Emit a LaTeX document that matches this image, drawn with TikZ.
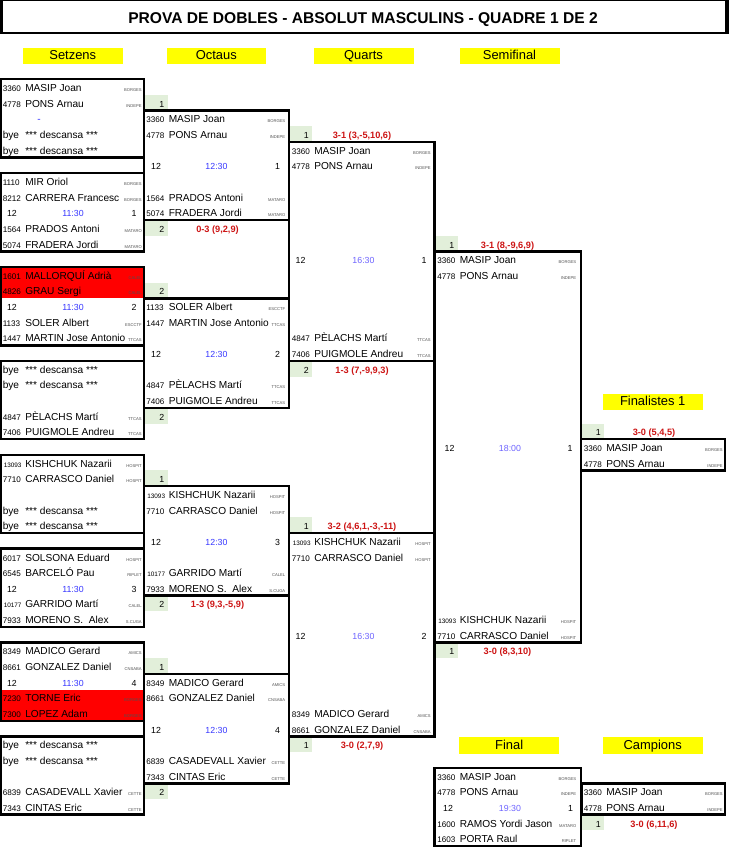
\documentclass[tikz,border=0pt]{standalone}
\usepackage{fontspec}
\setmainfont{Liberation Sans}
\definecolor{cellgreen}{RGB}{226,239,218}
\definecolor{hdryellow}{RGB}{255,255,0}
\definecolor{timeblue}{RGB}{55,55,255}
\definecolor{timeblueb}{RGB}{110,100,255}
\definecolor{resred}{RGB}{205,20,20}
\definecolor{clubgrey}{RGB}{80,80,80}
\tikzset{
  nmt/.style={inner sep=0pt,font=\fontsize{7.6}{9}\selectfont},
  idt/.style={inner sep=0pt,font=\fontsize{6.1}{7}\selectfont},
  idtf/.style={inner sep=0pt,font=\fontsize{4.8}{6}\selectfont},
  clt/.style={inner sep=0pt,text=clubgrey,font=\fontsize{3.1}{4}\selectfont},
  mdt/.style={inner sep=0pt,font=\fontsize{6.6}{8}\selectfont},
  rst/.style={inner sep=0pt,text=resred,font=\bfseries\fontsize{6.9}{8}\selectfont},
  hdr/.style={inner sep=0pt,font=\fontsize{9.7}{11}\selectfont},
  ttl/.style={inner sep=0pt,font=\bfseries\fontsize{11.7}{13}\selectfont},
  boxl/.style={draw=black,line width=1.9pt},
}
% entry: prefix, x0, row, id, name, club
\newcommand\ent[6]{%
  \node[idt,anchor=base west] (#1-id) at ({#2+2.5},{91.5+15.65*(#3)}) {#4};
  \node[nmt,anchor=base west] (#1-nm) at ({#2+25},{91.5+15.65*(#3)}) {#5};
  \node[clt,anchor=base east] (#1-cl) at ({#2+142},{91.5+15.65*(#3)}) {#6};
}
% entry with a five-digit id
\newcommand\entf[6]{%
  \node[idtf,anchor=base west] (#1-id) at ({#2+3.5},{91.5+15.65*(#3)}) {#4};
  \node[nmt,anchor=base west] (#1-nm) at ({#2+25},{91.5+15.65*(#3)}) {#5};
  \node[clt,anchor=base east] (#1-cl) at ({#2+142},{91.5+15.65*(#3)}) {#6};
}
% bye: prefix, x0, row
\newcommand\byeline[3]{%
  \node[nmt,anchor=base west] (#1-id) at ({#2+2.5},{91.5+15.65*(#3)}) {bye};
  \node[nmt,anchor=base west] (#1-nm) at ({#2+25},{91.5+15.65*(#3)}) {*** descansa ***};
}
% mid row: prefix, x12, xtime, xnum, row, time, num, colour
\newcommand\midrow[8]{%
  \node[mdt,anchor=base] (#1-a) at (#2,{91.5+15.65*(#5)}) {12};
  \node[mdt,anchor=base,text=#8] (#1-t) at (#3,{91.5+15.65*(#5)}) {#6};
  \node[mdt,anchor=base] (#1-n) at (#4,{91.5+15.65*(#5)}) {#7};
}
% winner cell: prefix, xcell, row, num
\newcommand\wcell[4]{%
  \fill[cellgreen] (#2,{79.2+15.65*(#3)}) rectangle ({#2+23},{94.85+15.65*(#3)});
  \node[mdt,anchor=base east] (#1-w) at ({#2+20},{91.5+15.65*(#3)}) {#4};
}
% result: prefix, xcell, row, text
\newcommand\wres[4]{%
  \node[rst,anchor=base] (#1-r) at ({#2+73},{91.5+15.65*(#3)}) {#4};
}
% box: x0, x1, row1, row2
\newcommand\bx[4]{%
  \draw[boxl] (#1,{79.2+15.65*(#3)}) rectangle (#2,{94.85+15.65*(#4)});
}
% header: name, x0, x1, ytop, ybot, text
\newcommand\hd[6]{%
  \fill[hdryellow] (#2,#4) rectangle (#3,#5);
  \node[hdr,anchor=base] (#1) at ({(#2+#3)/2},{#5-4.5}) {#6};
}
\begin{document}
\begin{tikzpicture}[x=0.75pt,y=-0.75pt]
\useasboundingbox (0,0) rectangle (729,863);
\fill[white] (0,0) rectangle (729,863);
% title
\fill[black] (0,0) rectangle (729,34.3);
\fill[white] (2.8,1.1) rectangle (725.2,31.7);
\node[ttl,anchor=base] (title) at (363,23.2) {PROVA DE DOBLES - ABSOLUT MASCULINS - QUADRE 1 DE 2};
% headers
\hd{h1}{22.5}{123}{48}{64.5}{Setzens}
\hd{h2}{166.5}{266}{48}{64.5}{Octaus}
\hd{h3}{313.5}{413.5}{48}{64.5}{Quarts}
\hd{h4}{459.5}{559.5}{48}{64.5}{Semifinal}
\hd{h5}{602.7}{702.7}{394}{409.5}{Finalistes 1}
\hd{h6}{459.3}{559}{737.3}{754}{Final}
\hd{h7}{602.7}{702.7}{737.3}{754}{Campions}
% red rows
\fill[red] (0.5,{79.2+15.65*12}) rectangle (144,{94.85+15.65*13});
\fill[red] (0.5,{79.2+15.65*39}) rectangle (144,{94.85+15.65*40});
% winner cells
\wcell{c1}{144.5}{1}{1}
\wcell{c2}{144.5}{9}{2}
\wcell{c3}{144.5}{13}{2}
\wcell{c4}{144.5}{21}{2}
\wcell{c5}{144.5}{25}{1}
\wcell{c6}{144.5}{33}{2}
\wcell{c7}{144.5}{37}{1}
\wcell{c8}{144.5}{45}{2}
\wcell{d1}{289}{3}{1}
\wcell{d2}{289}{18}{2}
\wcell{d3}{289}{28}{1}
\wcell{d4}{289}{42}{1}
\wcell{e1}{434.5}{10}{1}
\wcell{e2}{434.5}{36}{1}
\wcell{f1}{581}{22}{1}
\wcell{g1}{581}{47}{1}
% results
\wres{c2}{144.5}{9}{0-3 (9,2,9)}
\wres{c6}{144.5}{33}{1-3 (9,3,-5,9)}
\wres{d1}{289}{3}{3-1 (3,-5,10,6)}
\wres{d2}{289}{18}{1-3 (7,-9,9,3)}
\wres{d3}{289}{28}{3-2 (4,6,1,-3,-11)}
\wres{d4}{289}{42}{3-0 (2,7,9)}
\wres{e1}{434.5}{10}{3-1 (8,-9,6,9)}
\wres{e2}{434.5}{36}{3-0 (8,3,10)}
\wres{f1}{581}{22}{3-0 (5,4,5)}
\wres{g1}{581}{47}{3-0 (6,11,6)}
% boxes
\bx{0.8}{144}{0}{4}
\bx{0.8}{144}{6}{10}
\bx{0.8}{144}{12}{16}
\bx{0.8}{144}{18}{22}
\bx{0.8}{144}{24}{28}
\bx{0.8}{144}{30}{34}
\bx{0.8}{144}{36}{40}
\bx{0.8}{144}{42}{46}
\bx{144}{289}{2}{8}
\bx{144}{289}{14}{20}
\bx{144}{289}{26}{32}
\bx{144}{289}{38}{44}
\bx{289}{434.5}{4}{17}
\bx{289}{434.5}{29}{41}
\bx{434.5}{581}{11}{35}
\bx{581}{725}{23}{24}
\bx{434.5}{581}{44}{48}
\bx{581.5}{725}{45}{46}
% Setzens
\ent{s1a}{0}{0}{3360}{MASIP Joan}{BORGES}
\ent{s1b}{0}{1}{4778}{PONS Arnau}{INDEPE}
\node[nmt,anchor=base,text=timeblue] (s1dash) at (39,{91.5+15.65*2}) {-};
\byeline{s1c}{0}{3}
\byeline{s1d}{0}{4}
\ent{s2a}{0}{6}{1110}{MIR Oriol}{BORGES}
\ent{s2b}{0}{7}{8212}{CARRERA Francesc}{BORGES}
\midrow{s2m}{12}{73}{134}{8}{11:30}{1}{timeblue}
\ent{s2c}{0}{9}{1564}{PRADOS Antoni}{MATARO}
\ent{s2d}{0}{10}{5074}{FRADERA Jordi}{MATARO}
\ent{s3a}{0}{12}{1601}{MALLORQUÍ Adrià}{CALEL}
\ent{s3b}{0}{13}{4826}{GRAU Sergi}{CALEL}
\midrow{s3m}{12}{73}{134}{14}{11:30}{2}{timeblue}
\ent{s3c}{0}{15}{1133}{SOLER Albert}{ESCCTF}
\ent{s3d}{0}{16}{1447}{MARTIN Jose Antonio}{TTCAS}
\byeline{s4a}{0}{18}
\byeline{s4b}{0}{19}
\ent{s4c}{0}{21}{4847}{PÈLACHS Martí}{TTCAS}
\ent{s4d}{0}{22}{7406}{PUIGMOLE Andreu}{TTCAS}
\entf{s5a}{0}{24}{13093}{KISHCHUK Nazarii}{HOSPIT}
\ent{s5b}{0}{25}{7710}{CARRASCO Daniel}{HOSPIT}
\byeline{s5c}{0}{27}
\byeline{s5d}{0}{28}
\ent{s6a}{0}{30}{6017}{SOLSONA Eduard}{HOSPIT}
\ent{s6b}{0}{31}{6545}{BARCELÓ Pau}{RIPLET}
\midrow{s6m}{12}{73}{134}{32}{11:30}{3}{timeblue}
\entf{s6c}{0}{33}{10177}{GARRIDO Martí}{CALEL}
\ent{s6d}{0}{34}{7933}{MORENO S.\ \ Alex}{S.CUGA}
\ent{s7a}{0}{36}{8349}{MADICO Gerard}{AMICS}
\ent{s7b}{0}{37}{8661}{GONZALEZ Daniel}{CNSABA}
\midrow{s7m}{12}{73}{134}{38}{11:30}{4}{timeblue}
\ent{s7c}{0}{39}{7230}{TORNE Eric}{BORGES}
\ent{s7d}{0}{40}{7300}{LOPEZ Adam}{BORGES}
\byeline{s8a}{0}{42}
\byeline{s8b}{0}{43}
\ent{s8c}{0}{45}{6839}{CASADEVALL Xavier}{CETTE}
\ent{s8d}{0}{46}{7343}{CINTAS Eric}{CETTE}
% Octaus
\ent{o1a}{143.5}{2}{3360}{MASIP Joan}{BORGES}
\ent{o1b}{143.5}{3}{4778}{PONS Arnau}{INDEPE}
\midrow{o1m}{156}{216.5}{277.5}{5}{12:30}{1}{timeblue}
\ent{o1c}{143.5}{7}{1564}{PRADOS Antoni}{MATARO}
\ent{o1d}{143.5}{8}{5074}{FRADERA Jordi}{MATARO}
\ent{o2a}{143.5}{14}{1133}{SOLER Albert}{ESCCTF}
\ent{o2b}{143.5}{15}{1447}{MARTIN Jose Antonio}{TTCAS}
\midrow{o2m}{156}{216.5}{277.5}{17}{12:30}{2}{timeblue}
\ent{o2c}{143.5}{19}{4847}{PÈLACHS Martí}{TTCAS}
\ent{o2d}{143.5}{20}{7406}{PUIGMOLE Andreu}{TTCAS}
\entf{o3a}{143.5}{26}{13093}{KISHCHUK Nazarii}{HOSPIT}
\ent{o3b}{143.5}{27}{7710}{CARRASCO Daniel}{HOSPIT}
\midrow{o3m}{156}{216.5}{277.5}{29}{12:30}{3}{timeblue}
\entf{o3c}{143.5}{31}{10177}{GARRIDO Martí}{CALEL}
\ent{o3d}{143.5}{32}{7933}{MORENO S.\ \ Alex}{S.CUGA}
\ent{o4a}{143.5}{38}{8349}{MADICO Gerard}{AMICS}
\ent{o4b}{143.5}{39}{8661}{GONZALEZ Daniel}{CNSABA}
\midrow{o4m}{156}{216.5}{277.5}{41}{12:30}{4}{timeblue}
\ent{o4c}{143.5}{43}{6839}{CASADEVALL Xavier}{CETTE}
\ent{o4d}{143.5}{44}{7343}{CINTAS Eric}{CETTE}
% Quarts
\ent{q1a}{289}{4}{3360}{MASIP Joan}{BORGES}
\ent{q1b}{289}{5}{4778}{PONS Arnau}{INDEPE}
\midrow{q1m}{300.5}{363.5}{424}{11}{16:30}{1}{timeblueb}
\ent{q1c}{289}{16}{4847}{PÈLACHS Martí}{TTCAS}
\ent{q1d}{289}{17}{7406}{PUIGMOLE Andreu}{TTCAS}
\entf{q2a}{289}{29}{13093}{KISHCHUK Nazarii}{HOSPIT}
\ent{q2b}{289}{30}{7710}{CARRASCO Daniel}{HOSPIT}
\midrow{q2m}{300.5}{363.5}{424}{35}{16:30}{2}{timeblueb}
\ent{q2c}{289}{40}{8349}{MADICO Gerard}{AMICS}
\ent{q2d}{289}{41}{8661}{GONZALEZ Daniel}{CNSABA}
% Semifinal
\ent{m1a}{434.5}{11}{3360}{MASIP Joan}{BORGES}
\ent{m1b}{434.5}{12}{4778}{PONS Arnau}{INDEPE}
\midrow{m1m}{449.5}{510}{570}{23}{18:00}{1}{timeblueb}
\entf{m1c}{434.5}{34}{13093}{KISHCHUK Nazarii}{HOSPIT}
\ent{m1d}{434.5}{35}{7710}{CARRASCO Daniel}{HOSPIT}
% Finalistes
\ent{f1a}{581}{23}{3360}{MASIP Joan}{BORGES}
\ent{f1b}{581}{24}{4778}{PONS Arnau}{INDEPE}
% Final
\ent{n1a}{434.5}{44}{3360}{MASIP Joan}{BORGES}
\ent{n1b}{434.5}{45}{4778}{PONS Arnau}{INDEPE}
\midrow{n1m}{448}{510}{570.5}{46}{19:30}{1}{timeblueb}
\ent{n1c}{434.5}{47}{1600}{RAMOS Yordi Jason}{MATARO}
\ent{n1d}{434.5}{48}{1603}{PORTA Raul}{RIPLET}
% Campions
\ent{p1a}{581}{45}{3360}{MASIP Joan}{BORGES}
\ent{p1b}{581}{46}{4778}{PONS Arnau}{INDEPE}
\end{tikzpicture}
\end{document}
